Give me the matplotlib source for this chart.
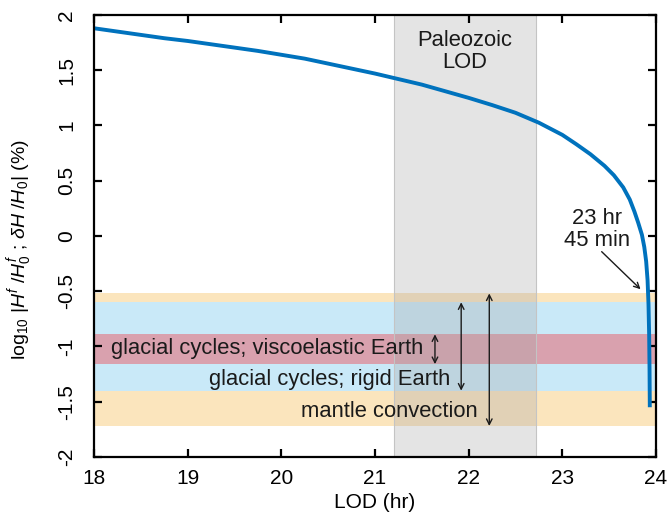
"""
Flattening change vs length of day, with glacial / mantle convection ranges.
"""
import matplotlib
matplotlib.use('Agg')
import matplotlib.pyplot as plt

plt.rcParams['font.family'] = ['Liberation Sans', 'DejaVu Sans']
plt.rcParams['mathtext.fontset'] = 'custom'
plt.rcParams['mathtext.rm'] = 'Liberation Sans'
plt.rcParams['mathtext.it'] = 'Liberation Sans:italic'

# curve
lod = [18.0, 18.25, 18.5, 18.75, 19.0, 19.25, 19.5, 19.75, 20.0, 20.25,
       20.5, 20.75, 21.0, 21.25, 21.5, 21.75, 22.0, 22.25, 22.5, 22.75,
       23.0, 23.15, 23.3, 23.45, 23.55, 23.65, 23.72, 23.77, 23.81, 23.85,
       23.875, 23.895, 23.91, 23.92, 23.927, 23.931, 23.934]
log_ratio = [1.88, 1.85, 1.82, 1.79, 1.765, 1.735, 1.705, 1.675, 1.64, 1.605,
             1.56, 1.515, 1.47, 1.42, 1.37, 1.31, 1.25, 1.185, 1.115, 1.025,
             0.915, 0.83, 0.74, 0.635, 0.55, 0.44, 0.33, 0.22, 0.12, 0.01,
             -0.10, -0.23, -0.40, -0.62, -0.90, -1.20, -1.55]

paleozoic_lod = (21.2, 22.72)

# ranges (top, bottom) in log10 %
mantle_range = (-0.52, -1.72)
rigid_range = (-0.60, -1.40)
visco_range = (-0.89, -1.16)

BLUE = "#0072BD"
ORANGE = "#FBE5BD"
LIGHT_BLUE = "#C9E9F8"
PINK = "#D9A1AE"
INK = "#1a1a1a"

fig = plt.figure(figsize=(6.67, 5.14), dpi=100)
ax = fig.add_axes([0.141, 0.111, 0.8425, 0.8598])

ax.axhspan(mantle_range[1], mantle_range[0], color=ORANGE, lw=0, zorder=0)
ax.axhspan(rigid_range[1], rigid_range[0], color=LIGHT_BLUE, lw=0, zorder=0.1)
ax.axhspan(visco_range[1], visco_range[0], color=PINK, lw=0, zorder=0.2)

ax.axvspan(paleozoic_lod[0], paleozoic_lod[1], facecolor=(0.65, 0.65, 0.65, 0.30),
           edgecolor='#c4c4c4', lw=0.8, zorder=1)

ax.plot(lod, log_ratio, color=BLUE, lw=2.8, zorder=3, solid_capstyle='butt')

# range arrows
arrow_kw = dict(arrowstyle='<->', color=INK, lw=1.0, mutation_scale=10,
                shrinkA=0, shrinkB=0)
for x, (top, bot) in zip([21.64, 21.92, 22.22], [visco_range, rigid_range, mantle_range]):
    ax.annotate('', xy=(x, top), xytext=(x, bot), arrowprops=arrow_kw, zorder=4)

fs = 15
tfs = 15.8
ax.text(21.52, -1.02, 'glacial cycles; viscoelastic Earth', ha='right', va='center',
        fontsize=tfs, color=INK, zorder=4)
ax.text(21.8, -1.30, 'glacial cycles; rigid Earth', ha='right', va='center',
        fontsize=tfs, color=INK, zorder=4)
ax.text(22.1, -1.59, 'mantle convection', ha='right', va='center',
        fontsize=tfs, color=INK, zorder=4)

ax.text(sum(paleozoic_lod) / 2, 1.67, 'Paleozoic\nLOD', ha='center', va='center',
        fontsize=tfs, color=INK, linespacing=1.05)

ax.text(23.37, 0.06, '23 hr\n45 min', ha='center', va='center', fontsize=tfs,
        color=INK, linespacing=1.05)
ax.annotate('', xy=(23.835, -0.482), xytext=(23.42, -0.142),
            arrowprops=dict(arrowstyle='->', color=INK, lw=1.0,
                            shrinkA=0, shrinkB=0))

ax.set_xlim(18, 24)
ax.set_ylim(-2, 2)
ax.set_xticks([18, 19, 20, 21, 22, 23, 24])
ax.set_yticks([-2, -1.5, -1, -0.5, 0, 0.5, 1, 1.5, 2])
ax.set_yticklabels(['-2', '-1.5', '-1', '-0.5', '0', '0.5', '1', '1.5', '2'],
                   rotation=90, va='center')

ax.tick_params(direction='in', length=6, width=1.6, labelsize=fs,
               top=True, right=True)
ax.tick_params(axis='x', pad=9)
ax.tick_params(axis='y', pad=13)
for s in ax.spines.values():
    s.set_linewidth(1.6)
    s.set_zorder(5)

ax.set_xlabel('LOD (hr)', fontsize=fs, labelpad=3)
ax.set_ylabel(r'log$_{10}$ |$H^f$ /$H^f_0$ ; $\delta H$ /$H_0$| (%)', fontsize=14)
ax.yaxis.set_label_coords(-0.107, 0.47)

fig.savefig('out.png', dpi=100)
